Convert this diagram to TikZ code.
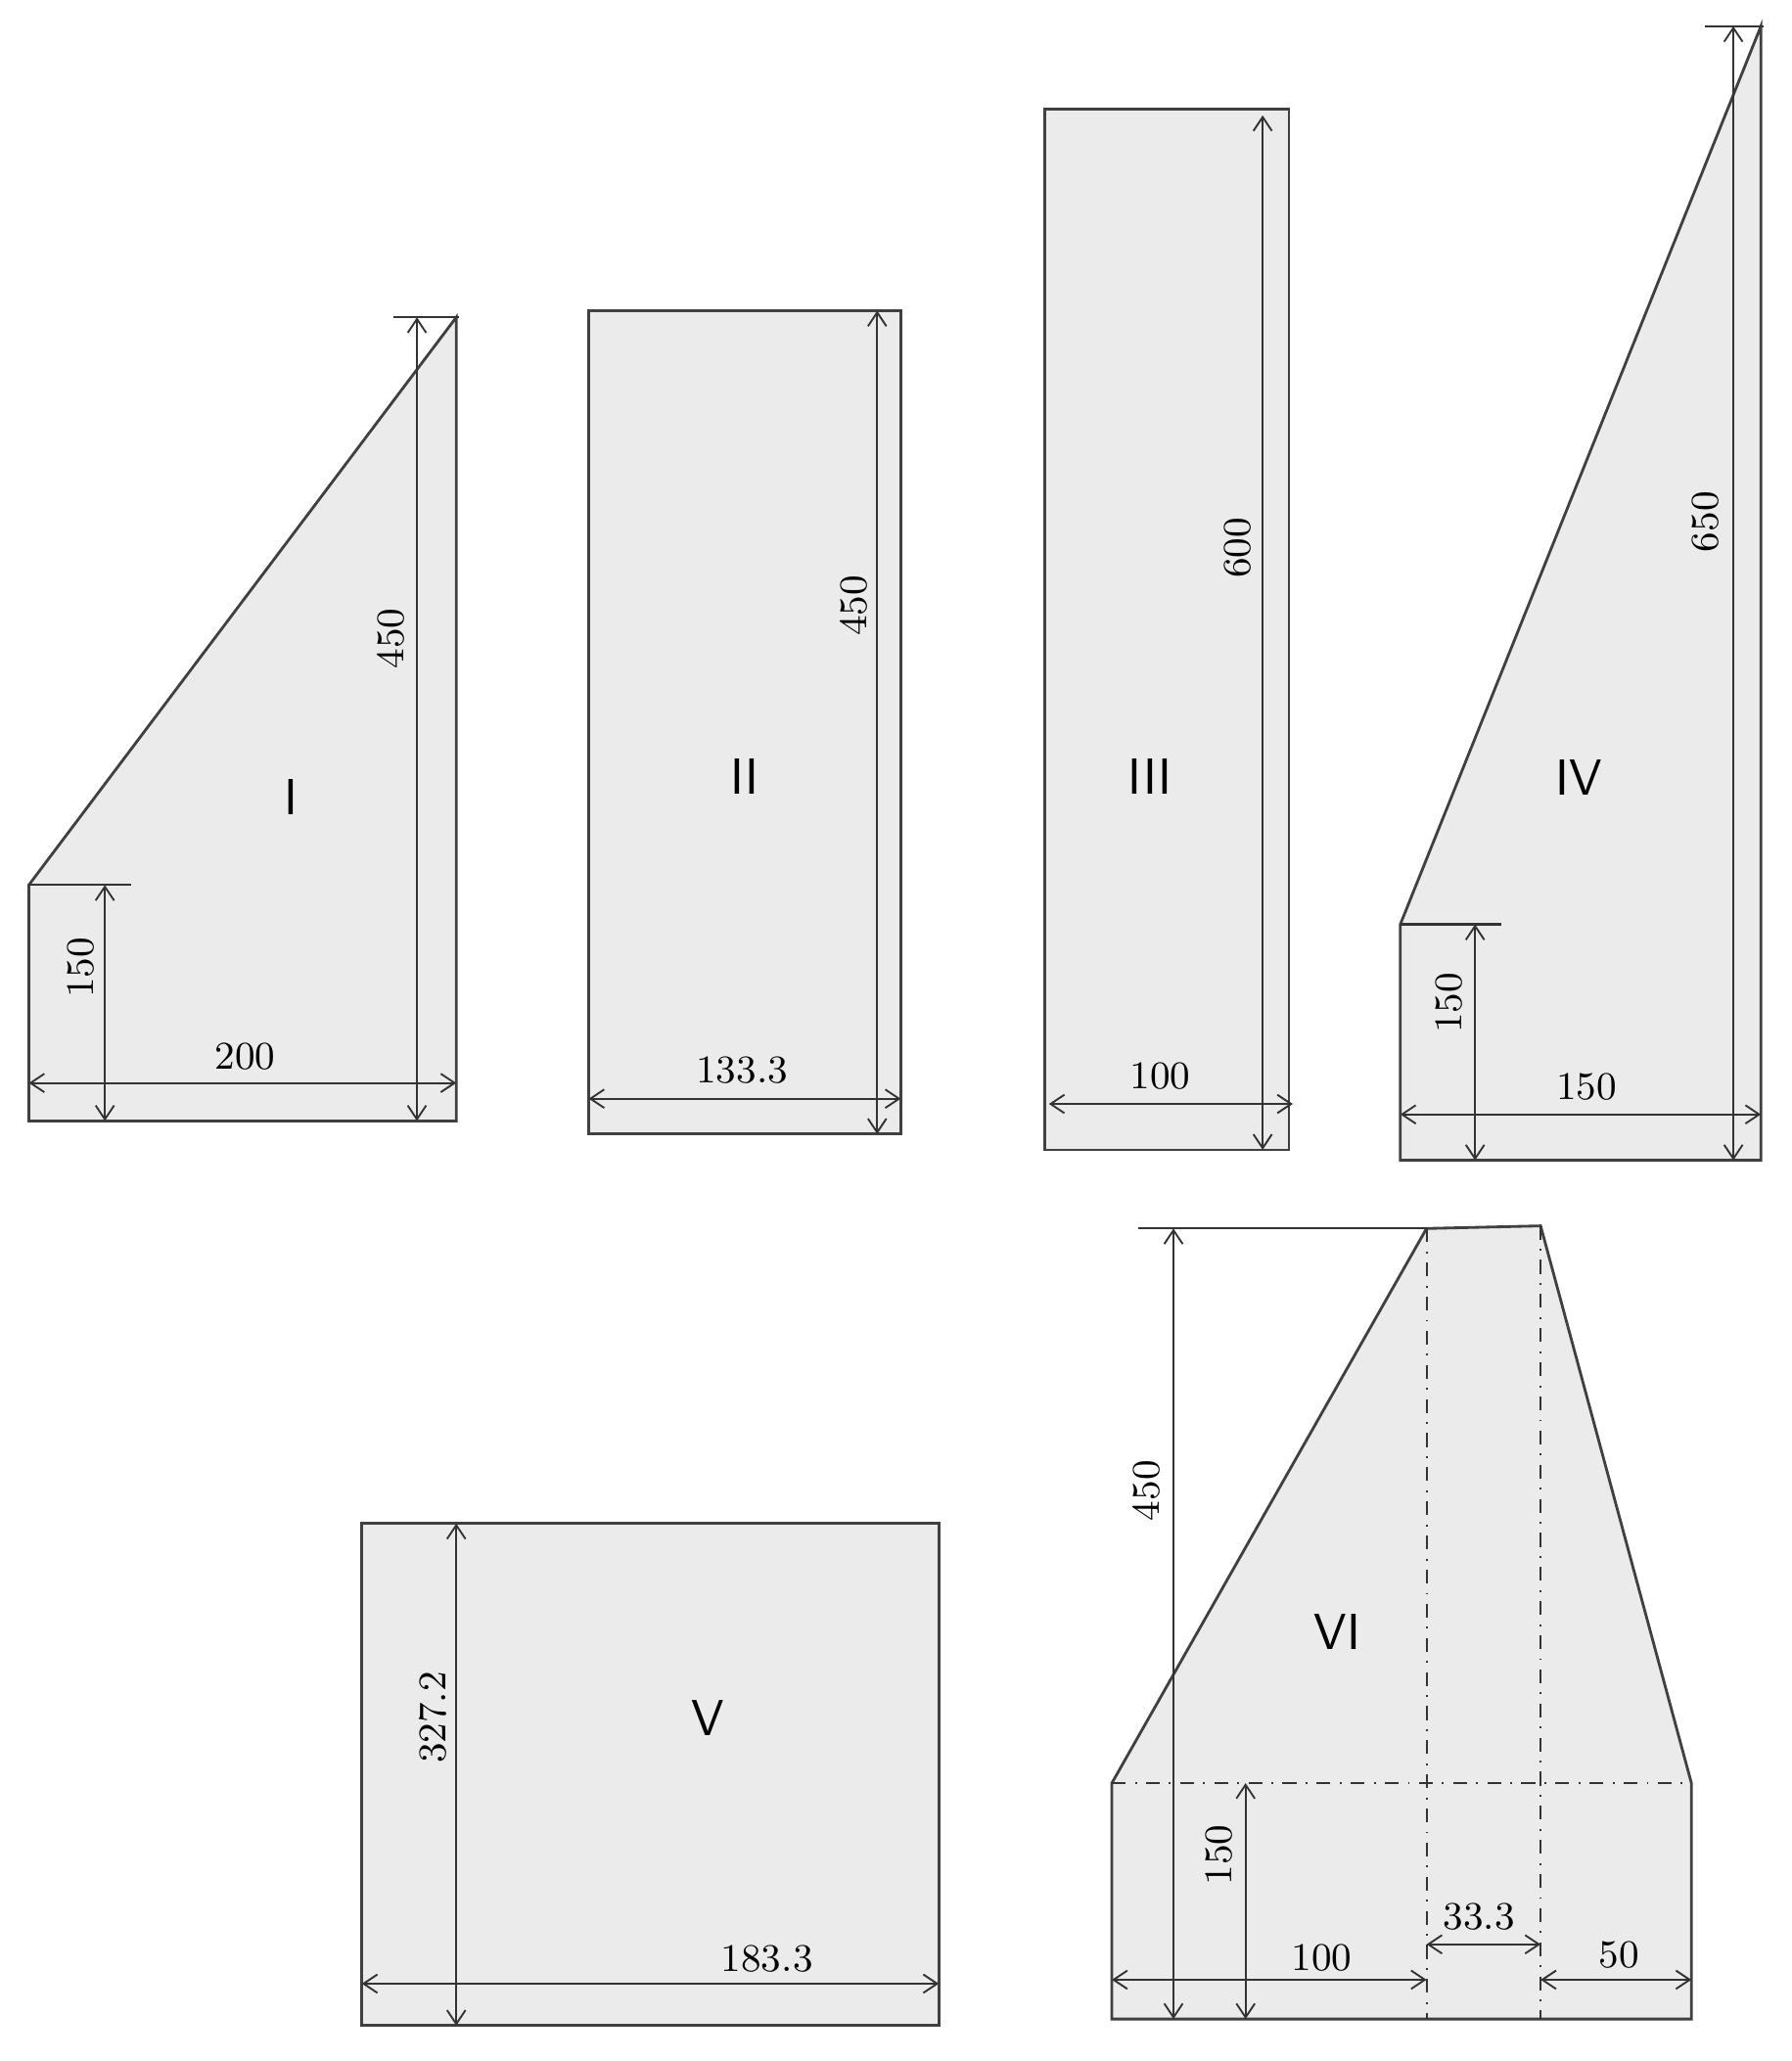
\documentclass[tikz,border=0pt]{standalone}
\usetikzlibrary{arrows.meta}
\begin{document}
\begin{tikzpicture}[x=0.01cm,y=-0.01cm,
  shp/.style={fill=gray!16,draw=black!75,line width=0.6pt},
  dim/.style={{Straight Barb[length=3pt,width=4pt]}-{Straight Barb[length=3pt,width=4pt]},line width=0.4pt,draw=black!80},
  tk/.style={line width=0.5pt,draw=black!80},
  num/.style={font=\fontsize{8.5}{9}\selectfont,inner sep=1pt},
  rom/.style={font=\sffamily\fontsize{11}{12}\selectfont},
  dd/.style={dash dot,line width=0.4pt,draw=black!80}]
\useasboundingbox (0,0) rectangle (1366,1572);
% I
\draw[shp] (22,675) -- (348,242) -- (348,855) -- (22,855) -- cycle;
\draw[tk] (300,242) -- (350,242); \draw[tk] (22,675) -- (100,675);
\coordinate (a1) at (318,242); \coordinate (a2) at (318,855);
\draw[dim] (a1) -- (a2);
\coordinate (b1) at (80,675); \coordinate (b2) at (80,855); \draw[dim] (b1) -- (b2);
\coordinate (c1) at (22,826); \coordinate (c2) at (348,826); \draw[dim] (c1) -- (c2);
\node[num,rotate=90] (t1) at (298,487) {450};
\node[num,rotate=90] (t2) at (62,738) {150};
\node[num] (t3) at (187,806) {200};
\node[rom] (n1) at (222,608) {I};
% II
\draw[shp] (449,237) rectangle (687,865);
\coordinate (d1) at (669,237); \coordinate (d2) at (669,865); \draw[dim] (d1) -- (d2);
\coordinate (e1) at (449,838); \coordinate (e2) at (687,838); \draw[dim] (e1) -- (e2);
\node[num,rotate=90] (t4) at (651,462) {450};
\node[num] (t5) at (566,816) {133.3};
\node[rom] (n2) at (568,592) {II};
% III
\draw[shp] (797,83) rectangle (983,877);
\coordinate (f1) at (963,88); \coordinate (f2) at (963,877); \draw[dim] (f1) -- (f2);
\coordinate (g1) at (800,842); \coordinate (g2) at (986,842); \draw[dim] (g1) -- (g2);
\node[num,rotate=90] (t6) at (944,418) {600};
\node[num] (t7) at (885,821) {100};
\node[rom] (n3) at (877,592) {III};
% IV
\draw[shp] (1068,705) -- (1343,20) -- (1343,885) -- (1068,885) -- cycle;
\draw[tk] (1300,20) -- (1345,20); \draw[tk] (1068,705) -- (1145,705);
\coordinate (h1) at (1322,20); \coordinate (h2) at (1322,885); \draw[dim] (h1) -- (h2);
\coordinate (i1) at (1125,705); \coordinate (i2) at (1125,885); \draw[dim] (i1) -- (i2);
\coordinate (j1) at (1068,850); \coordinate (j2) at (1343,850); \draw[dim] (j1) -- (j2);
\node[num,rotate=90] (t8) at (1301,398) {650};
\node[num,rotate=90] (t9) at (1105,765) {150};
\node[num] (t10) at (1210,829) {150};
\node[rom] (n4) at (1204,593) {IV};
% V
\draw[shp] (276,1162) rectangle (716,1545);
\coordinate (k1) at (348,1162); \coordinate (k2) at (348,1545); \draw[dim] (k1) -- (k2);
\coordinate (l1) at (276,1513); \coordinate (l2) at (716,1513); \draw[dim] (l1) -- (l2);
\node[num,rotate=90] (t11) at (330,1310) {327.2};
\node[num] (t12) at (585,1494) {183.3};
\node[rom] (n5) at (540,1310) {V};
% VI
\draw[shp] (848,1360) -- (1088,937) -- (1175,935) -- (1290,1360) -- (1290,1540) -- (848,1540) -- cycle;
\draw[dd] (848,1360) -- (1290,1360);
\draw[dd] (1088,937) -- (1088,1540);
\draw[dd] (1175,935) -- (1175,1540);
\draw[tk] (868,937) -- (1088,937);
\coordinate (m1) at (895,937); \coordinate (m2) at (895,1540); \draw[dim] (m1) -- (m2);
\coordinate (o1) at (950,1360); \coordinate (o2) at (950,1540); \draw[dim] (o1) -- (o2);
\coordinate (p1) at (848,1510); \coordinate (p2) at (1088,1510); \draw[dim] (p1) -- (p2);
\coordinate (q1) at (1175,1510); \coordinate (q2) at (1290,1510); \draw[dim] (q1) -- (q2);
\coordinate (r1) at (1088,1483); \coordinate (r2) at (1175,1483); \draw[dim] (r1) -- (r2);
\node[num,rotate=90] (t13) at (874,1137) {450};
\node[num,rotate=90] (t14) at (930,1415) {150};
\node[num] (t15) at (1008,1493) {100};
\node[num] (t16) at (1235,1491) {50};
\node[num] (t17) at (1128,1462) {33.3};
\node[rom] (n6) at (1020,1245) {VI};
\end{tikzpicture}
\end{document}
